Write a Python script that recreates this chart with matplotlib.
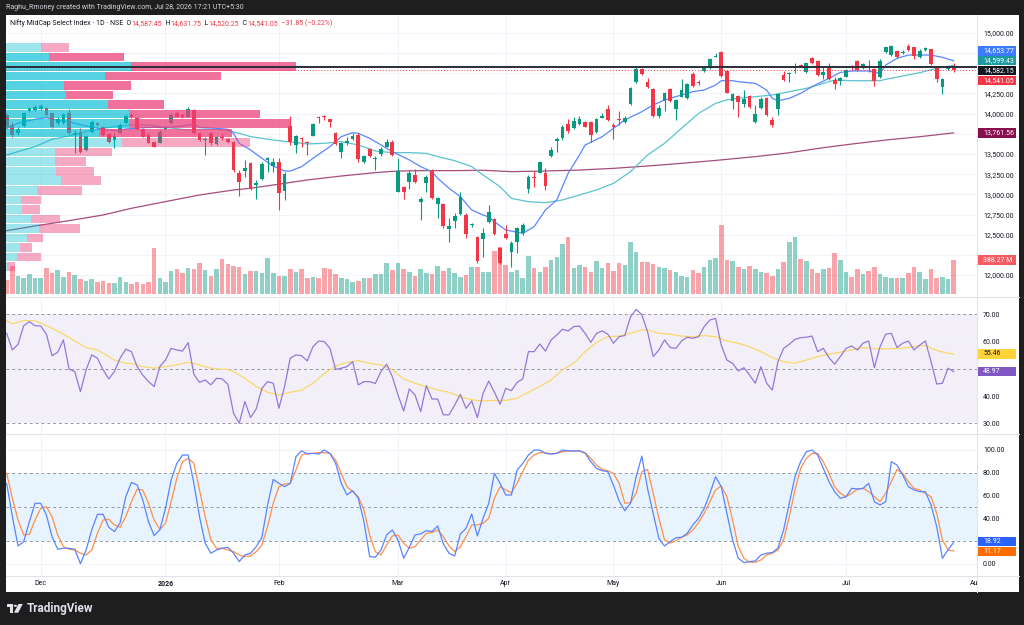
import numpy as np
import matplotlib
matplotlib.use("Agg")
import matplotlib.pyplot as plt
from matplotlib.patches import Rectangle, Polygon, Circle
from matplotlib.transforms import blended_transform_factory, Bbox, TransformedBbox

plt.rcParams['font.family'] = ['Roboto', 'DejaVu Sans']

# ---------------- data ----------------
opens = [13983,13859,13756,13847,14037,14045,14053,14066,14004,13880,
         13880,14012,13735,13777,13550,13777,13888,13830,13744,13674,
         13764,13888,13983,13942,13806,13735,13645,13640,13806,13880,
         14012,13983,13963,14045,13764,13674,13756,13624,13715,13682,
         13653,13269,13294,13384,13116,13186,13426,13351,13405,13042,
         13847,13612,13702,13653,13727,13963,13971,13930,13756,13529,
         13640,13682,13735,13397,13558,13434,13496,13591,13645,13033,
         13095,13149,13240,12901,13137,13289,12876,12876,12567,12674,
         12757,12744,12616,12476,12447,12653,12694,12339,12504,12289,
         12413,12517,13062,13219,13268,13268,13475,13665,13694,13871,
         13818,13867,13892,13896,13776,13950,14053,13859,13933,13900,
         14119,14396,14549,14396,14301,13970,14156,14305,14053,14210,
         14189,14487,14396,14528,14561,14705,14759,14532,14156,14218,
         14119,14218,13900,14065,14189,13921,14053,14478,14487,14561,
         14606,14520,14685,14656,14478,14573,14416,14408,14458,14590,
         14652,14561,14631,14549,14449,14759,14726,14776,14755,14842,
         14821,14697,14788,14796,14573,14334,14549,14587.45]
highs = [14004,13901,13830,14025,14086,14107,14120,14086,14012,13963,
         14004,14053,13797,13818,13735,13921,13901,13847,13764,13756,
         13880,13996,14004,13963,13818,13756,13653,13797,13847,14004,
         14037,14004,14086,14053,13777,13715,13777,13723,13756,13694,
         13665,13302,13426,13405,13178,13405,13467,13446,13446,13281,
         13971,13735,13715,13665,13888,13971,13983,13938,13768,13653,
         13715,13756,13756,13488,13570,13475,13591,13682,13674,13446,
         13104,13302,13314,12963,13240,13310,12971,12889,12703,12765,
         13033,12765,12649,12484,12579,12868,12702,12351,12620,12426,
         12599,12649,13239,13289,13417,13322,13582,13706,13859,13929,
         13954,13970,13908,13908,13941,14003,14107,13879,14036,13970,
         14334,14573,14561,14437,14313,14107,14272,14317,14177,14425,
         14383,14520,14416,14573,14685,14755,14776,14540,14251,14231,
         14293,14231,14107,14210,14210,13954,14260,14532,14520,14623,
         14615,14631,14697,14664,14573,14623,14449,14458,14553,14602,
         14664,14623,14664,14561,14672,14829,14850,14788,14788,14862,
         14829,14796,14829,14805,14582,14437,14582,14631.75]
lows = [13818,13715,13735,13830,14025,14037,14045,13971,13818,13859,
        13872,13748,13508,13508,13541,13764,13847,13723,13632,13570,
        13756,13880,13942,13797,13707,13632,13583,13632,13797,13872,
        13954,13942,13954,13748,13665,13488,13612,13612,13674,13640,
        13281,12980,13219,13054,12938,13178,13281,13281,12806,12930,
        13612,13508,13583,13488,13723,13888,13921,13839,13612,13446,
        13612,13674,13405,13384,13467,13302,13479,13583,13475,13025,
        12938,13066,13145,12682,13033,12938,12703,12579,12414,12579,
        12748,12455,12591,12145,12228,12641,12496,12137,12442,12104,
        12269,12496,13020,13095,13260,13054,13467,13529,13673,13764,
        13805,13859,13830,13652,13764,13941,13908,13681,13859,13888,
        14107,14375,14478,14321,13954,13941,14032,14148,13921,14202,
        14177,14334,14354,14520,14553,14697,14458,14251,14053,13962,
        14086,14065,13880,14057,13970,13838,13983,14408,14396,14499,
        14573,14507,14615,14466,14425,14416,14301,14354,14449,14540,
        14532,14549,14520,14342,14445,14755,14718,14693,14739,14780,
        14672,14689,14780,14602,14396,14243,14540,14520.25]
closes = [13839,13735,13806,14004,14066,14086,14095,13983,13839,13930,
          13996,13756,13756,13529,13723,13901,13859,13735,13653,13723,
          13859,13971,13954,13806,13715,13640,13591,13777,13830,13983,
          13963,13954,14053,13756,13674,13690,13640,13707,13694,13653,
          13302,13157,13323,13062,13137,13376,13446,13405,13013,13252,
          13645,13723,13690,13640,13872,13946,13954,13897,13620,13640,
          13665,13727,13434,13475,13475,13446,13558,13653,13488,13289,
          13033,13260,13157,12943,13211,12951,12959,12608,12608,12736,
          12971,12509,12633,12178,12525,12785,12508,12153,12455,12393,
          12579,12620,13219,13206,13405,13107,13549,13686,13838,13789,
          13913,13933,13838,13735,13929,13970,13921,13830,13921,13950,
          14313,14549,14487,14334,13970,14074,14259,14160,14169,14292,
          14367,14346,14375,14561,14672,14714,14470,14259,14239,14148,
          14177,14086,13995,14177,13983,13859,14243,14416,14507,14582,
          14586,14623,14623,14478,14520,14425,14363,14437,14540,14573,
          14540,14611,14623,14404,14656,14821,14838,14705,14767,14788,
          14714,14780,14809,14615,14425,14425,14573,14541.05]
volumes_m = [160,320,206,179,225,179,179,293,236,274,
             198,255,213,168,148,168,137,145,129,129,
             198,137,114,133,114,133,522,179,133,263,
             286,236,301,286,358,274,209,282,400,343,
             320,305,228,263,263,236,407,236,206,206,
             286,255,282,179,190,187,301,282,225,179,
             171,141,152,187,187,225,225,358,274,350,
             286,247,206,286,244,225,320,263,293,244,
             198,217,312,305,255,255,495,533,331,255,
             274,179,434,293,255,312,388,426,571,647,
             301,331,305,255,377,301,358,263,350,331,
             594,480,369,369,343,312,293,274,255,209,
             198,274,244,305,388,415,788,388,377,305,
             286,320,282,255,236,209,286,362,598,655,
             400,377,286,236,282,301,472,388,255,190,
             286,228,263,305,225,198,179,187,187,236,
             305,255,171,286,179,190,171,388.27]

ma_fast_bars = [1,3,6,8,9,12,13,15,18,20,22,25,27,29,32,34,35,38,40,41,42,44,46,48,50,51,53,55,58,60,
                62,63,65,67,69,72,74,76,77,79,81,83,85,86,87,89,92,94,96,98,100,102,103,106,108,110,113,115,117,120,
                122,124,126,127,129,130,133,135,136,137,139,141,143,146,148,150,153,155,156,158,160,162,164,166,168]
ma_fast_vals = [13818,13880,13930,13950,13930,13901,13880,13847,13806,13789,13810,13826,13830,13826,13847,13868,13830,13818,13806,13756,
                13632,13550,13446,13351,13289,13289,13343,13446,13591,13715,13764,13756,13694,13612,13529,13426,13343,13281,13199,13075,
                12971,12806,12744,12720,12661,12558,12517,12599,12806,12930,13260,13487,13611,13714,13818,13921,14024,14107,14169,14231,
                14272,14293,14354,14408,14408,14396,14375,14293,14189,14160,14189,14251,14334,14437,14511,14528,14528,14499,14602,14685,
                14726,14726,14726,14697,14653.77]
ma_mid_bars = [1,6,9,12,15,18,20,23,26,29,33,35,38,40,42,44,48,54,57,60,63,66,69,72,75,77,80,83,85,88,
               90,93,96,99,102,105,108,111,114,117,120,123,126,128,130,133,136,139,142,145,147,150,153,155,156,159,162,165,168]
ma_mid_vals = [13488,13591,13682,13723,13777,13818,13839,13859,13859,13830,13797,13806,13806,13789,13756,13715,13673,13624,13632,13653,
               13612,13537,13517,13517,13508,13467,13417,13343,13240,13095,12950,12909,12897,12930,12992,13054,13136,13281,13487,13632,
               13818,14003,14127,14170,14189,14210,14231,14272,14313,14375,14416,14408,14408,14408,14425,14466,14507,14561,14599.43]
ma_slow_bars = [1,6,12,18,23,29,35,41,44,48,54,60,66,70,75,80,85,90,96,102,108,114,120,126,133,139,145,150,156,162,168]
ma_slow_vals = [12550,12608,12674,12744,12827,12910,12992,13054,13075,13116,13178,13227,13269,13289,13294,13294,13298,13281,13289,13301,
                13322,13351,13384,13420,13467,13515,13578,13623,13673,13714,13761.56]

rsi_vals = [63.0,56.9,59.0,65.8,67.3,65.8,65.7,62.7,54.8,56.1,
            60.6,49.9,49.0,41.6,49.6,55.1,53.9,49.6,46.3,49.0,
            53.9,57.2,56.3,50.8,47.7,45.3,43.5,50.8,53.2,57.5,
            56.9,56.5,59.6,48.0,45.0,45.9,44.1,46.5,46.3,44.3,
            33.7,30.0,38.0,32.1,35.3,42.8,45.3,44.7,35.5,43.5,
            53.9,55.1,54.8,52.9,58.1,60.2,60.0,57.5,49.8,50.2,
            50.8,52.6,44.1,45.3,45.3,44.6,49.0,51.7,47.1,40.4,
            34.5,42.6,40.4,34.3,43.8,38.9,38.9,33.1,33.1,36.7,
            40.6,35.5,38.2,32.1,41.0,45.5,41.4,37.0,42.8,42.0,
            45.0,46.3,56.3,56.3,59.1,56.5,60.6,62.4,64.5,63.9,
            65.5,65.7,63.0,59.7,63.0,63.9,62.7,59.4,61.8,62.2,
            69.1,71.8,69.8,63.6,54.5,56.9,60.6,57.8,57.5,60.2,
            61.6,61.2,61.8,65.5,67.9,68.5,58.7,53.2,52.0,49.2,
            50.4,47.7,44.7,50.8,44.7,42.2,52.6,57.5,59.0,60.8,
            61.4,61.6,62.0,56.3,57.5,54.1,51.7,54.5,57.5,58.4,
            56.9,59.4,60.2,50.4,58.1,62.7,63.0,57.8,59.4,60.2,
            56.9,58.7,60.2,52.6,44.4,44.7,50.2,48.97]
rsi_ma_bars = [1,2,3,4,6,7,9,11,13,15,17,18,20,22,23,25,27,29,31,33,
               35,37,39,40,41,43,45,47,49,51,53,55,57,59,61,63,65,67,69,71,
               73,75,77,79,81,83,85,87,89,91,93,95,97,99,101,103,105,107,109,111,
               113,114,116,118,120,122,124,126,128,130,132,134,136,138,140,142,144,146,148,150,
               152,154,156,158,160,162,163,165,167,168]
rsi_ma_vals = [67.6,66.5,67.1,67.7,67.6,66.7,64.9,62.7,60.2,57.8,56.9,55.7,53.2,52.0,52.0,50.8,50.2,50.8,51.4,52.4,
               51.4,50.2,49.8,49.8,49.0,46.5,43.5,41.4,40.4,41.4,42.2,44.7,48.3,51.0,52.4,53.0,52.0,51.4,49.6,46.3,
               44.7,43.5,42.2,41.4,39.8,38.6,38.2,38.4,38.4,39.2,41.4,43.5,45.9,49.6,52.0,56.3,59.7,61.8,62.0,63.0,
               64.3,64.3,63.0,62.7,62.0,61.8,62.2,61.8,60.2,59.4,58.1,56.3,54.1,52.6,52.0,53.2,54.5,55.3,56.1,56.9,
               57.8,57.3,57.3,57.5,57.8,58.5,58.5,56.7,55.7,55.46]
stoch_k = [70.6,41.4,15.6,19.4,37.0,53.1,53.1,42.8,23.8,12.7,
           13.6,13.6,12.7,0.0,12.1,29.7,43.4,43.4,32.0,28.2,
           36.1,58.9,71.5,69.2,56.0,37.0,24.7,29.7,48.7,73.6,
           88.2,95.5,95.5,70.6,41.4,18.0,9.2,12.1,13.6,14.4,
           9.2,1.9,7.7,9.2,15.0,23.2,51.6,74.1,70.6,67.7,
           70.6,94.0,99.3,96.4,97.0,96.4,99.9,97.0,88.2,70.6,
           60.4,64.2,57.5,37.0,6.3,5.7,12.1,25.3,29.7,20.9,
           4.8,14.4,25.3,26.2,29.1,28.2,33.2,17.4,9.2,6.8,
           26.2,31.1,43.7,24.4,39.9,53.1,79.4,70.6,60.4,60.4,
           82.3,88.2,95.5,99.9,99.9,97.0,96.4,97.0,99.9,99.3,
           99.0,99.3,97.0,89.7,83.8,81.8,80.9,68.9,55.1,46.6,
           53.1,76.5,94.6,66.2,44.3,22.3,15.6,19.4,22.9,23.2,
           26.7,34.1,39.9,48.7,61.9,76.5,67.7,44.3,20.9,4.8,
           1.0,1.9,2.4,7.7,9.2,9.8,13.6,29.7,53.1,76.5,
           89.7,98.4,99.9,95.5,83.8,72.1,63.3,57.5,58.9,66.2,
           65.7,66.2,70.6,54.5,51.6,54.5,89.7,86.7,78.0,67.7,
           64.8,63.3,63.3,51.6,32.6,4.8,12.1,18.92]
stoch_d = [79.4,57.5,38.4,25.3,25.9,38.4,48.7,50.1,41.4,25.3,
           15.0,12.7,12.1,9.2,7.7,12.1,26.7,38.4,39.0,34.1,
           32.0,41.4,54.5,65.4,64.8,53.1,38.4,30.2,35.5,54.5,
           75.0,89.7,92.6,88.2,64.8,41.4,20.9,13.6,13.6,12.1,
           10.6,7.7,6.3,6.8,10.6,16.5,32.6,53.1,67.7,70.0,
           70.6,82.3,95.5,97.0,97.0,97.6,97.6,97.0,91.1,79.4,
           67.7,63.3,58.9,47.2,25.3,10.6,7.7,16.5,24.4,25.3,
           18.0,13.6,15.0,20.9,26.7,27.3,29.7,23.8,15.6,10.6,
           15.0,23.8,34.1,34.1,35.5,39.9,57.5,67.7,64.8,62.4,
           70.6,80.9,91.1,95.5,97.6,97.6,96.4,97.0,98.4,99.0,
           99.3,99.0,97.6,92.6,86.7,82.9,81.8,79.4,70.6,53.1,
           53.7,61.9,80.9,82.9,61.9,39.9,20.9,18.0,20.3,23.2,
           25.3,29.7,36.1,44.3,54.5,64.8,68.3,58.9,38.4,15.0,
           4.8,1.3,1.3,3.3,7.7,9.2,12.1,20.9,41.4,64.8,
           83.8,92.6,97.0,97.0,89.7,79.4,67.7,61.9,58.9,61.9,
           65.4,66.2,63.3,58.9,54.5,61.9,72.1,82.9,79.4,72.1,
           66.2,64.8,61.9,58.9,44.3,20.9,12.1,11.17]

# visible-range volume profile (24 price rows from the top)
vp_top_price = 14879
vp_row_size = 118
vp_up = [35.3,43.3,125,99.3,58.3,60.3,102,122.6,122.6,92.6,116,48.6,
         48.6,50.3,55.3,31,15,16,25,33.3,21,13.6,11,1]
vp_down = [28,75,165.3,115.7,67,47,56,131.4,161.7,133.4,127.6,57.4,
           31.7,38,39.7,45,20.3,17.6,29.3,40.3,16,12.4,24.3,8.3]
vp_value_area_rows = (1, 9)

hline_price = 14582.15
price_ticks = [12000,12250,12500,12750,13000,13250,13500,13750,14000,14250,14500,14750,15000]
rsi_ticks = [30,40,50,60,70]
stoch_ticks = [0,20,40,60,80,100]
month_bars = [7,29,49,70,89,108,127,149]
month_labels = ['Dec','2026','Feb','Mar','Apr','May','Jun','Jul']
aug_bar = 172

# ---------------- figure ----------------
W, H = 1024, 625
fig = plt.figure(figsize=(W/100, H/100), dpi=100)
fig.patch.set_facecolor('#1e1e1e')

def frac(x0, y0, x1, y1):
    return [x0/W, 1 - y1/H, (x1-x0)/W, (y1-y0)/H]

def P(x, y):
    return (x/W, 1 - y/H)

fig.add_artist(Rectangle(P(6, 592), 1013/W, 577/H, transform=fig.transFigure,
                         facecolor='white', edgecolor='none', zorder=-5))

n = len(closes)
xs = np.arange(1, n+1)
O = np.array(opens, float); Hh = np.array(highs, float)
L = np.array(lows, float); C = np.array(closes, float)
up = C >= O
XL = (0.877, 172.1)
GRID = '#f0f3fa'
TXT = '#131722'

main_pos = frac(6, 15, 977, 297)
vax = fig.add_axes(main_pos, zorder=1)
ax = fig.add_axes(main_pos, zorder=2)
rax = fig.add_axes(frac(6, 297, 977, 434), zorder=2)
sax = fig.add_axes(frac(6, 434, 977, 576), zorder=2)
for a in (vax, ax, rax, sax):
    a.patch.set_alpha(0)
    a.set_xlim(*XL)
    for s in a.spines.values():
        s.set_visible(False)
    a.tick_params(axis='both', length=0, labelsize=5, labelcolor=TXT, pad=4.3)
    a.set_xticks([])
vax.set_ylim(-34, 3186)
vax.set_axis_off()

ax.set_ylim(11728, 15222)
rax.set_ylim(26.07, 76.35)
sax.set_ylim(-10.8, 114)

for a in (ax, rax, sax):
    for mb in month_bars:
        a.axvline(mb, color=GRID, lw=0.7, zorder=0.2)

# ---- main pane ----
for p in price_ticks:
    ax.axhline(p, color=GRID, lw=0.7, zorder=0.3)

vol_trans = blended_transform_factory(ax.transData, vax.transData)
vcol = [(8/255, 153/255, 129/255, 0.45) if u else (242/255, 54/255, 69/255, 0.45) for u in up]
ax.bar(xs, volumes_m, width=0.8, color=vcol, linewidth=0, transform=vol_trans, zorder=1)

ax.plot(ma_slow_bars, ma_slow_vals, color='#a54d7c', lw=0.9, zorder=2)
ax.plot(ma_mid_bars, ma_mid_vals, color='#5cc3cc', lw=0.9, zorder=2)
ax.plot(ma_fast_bars, ma_fast_vals, color='#5a86ff', lw=0.9, zorder=2)

ccol = np.where(up, '#089981', '#f23645')
ax.vlines(xs, L, Hh, colors=ccol, linewidth=0.8, zorder=3)
ax.bar(xs, np.maximum(np.abs(C - O), 10), bottom=np.minimum(O, C), width=0.66,
       color=ccol, linewidth=0, zorder=3.5)

ax.axhline(closes[-1], color='#f23645', lw=0.7, ls=(0, (1, 2)), zorder=3.8)

vp_trans = blended_transform_factory(ax.transAxes, ax.transData)
tot = [u + d for u, d in zip(vp_up, vp_down)]
scale = 0.299 / max(tot)
for k, (u, d) in enumerate(zip(vp_up, vp_down)):
    top = vp_top_price - k * vp_row_size
    bot = top - vp_row_size
    inva = vp_value_area_rows[0] <= k <= vp_value_area_rows[1]
    ca = (0, 188/255, 212/255, 0.66 if inva else 0.38)
    cb = (236/255, 64/255, 122/255, 0.74 if inva else 0.45)
    y0 = bot + vp_row_size * 0.05
    hh = vp_row_size * 0.9
    ax.add_patch(Rectangle((0, y0), u*scale, hh, transform=vp_trans, facecolor=ca, edgecolor='none', zorder=4))
    ax.add_patch(Rectangle((u*scale, y0), d*scale, hh, transform=vp_trans, facecolor=cb, edgecolor='none', zorder=4))

ax.axhline(hline_price, color='#2a2e39', lw=1.4, zorder=5)

# ---- RSI pane ----
rax.axhspan(30, 70, color='#7e57c2', alpha=0.09, lw=0, zorder=0.1)
for v in (40, 60):
    rax.axhline(v, color=GRID, lw=0.7, zorder=0.3)
for v in (30, 50, 70):
    rax.axhline(v, color='#9598a1', lw=0.7, ls=(0, (3, 3)), zorder=0.5)
rax.plot(rsi_ma_bars, rsi_ma_vals, color='#f9d86a', lw=0.9, zorder=2)
rax.plot(xs, rsi_vals, color='#9478d8', lw=0.9, zorder=3)

# ---- Stochastic pane ----
sax.axhspan(20, 80, color='#2196f3', alpha=0.1, lw=0, zorder=0.1)
for v in (0, 40, 60, 100):
    sax.axhline(v, color=GRID, lw=0.7, zorder=0.3)
for v in (20, 50, 80):
    sax.axhline(v, color='#9598a1', lw=0.7, ls=(0, (3, 3)), zorder=0.5)
sax.plot(xs, stoch_d, color='#ff8f4a', lw=0.9, zorder=2)
sax.plot(xs, stoch_k, color='#5b83ff', lw=0.9, zorder=3)
sax.set_xticks(month_bars)
sax.set_xticklabels(month_labels)
sax.tick_params(axis='x', pad=3.0, labelsize=5)
for t in sax.get_xticklabels():
    if t.get_text() == '2026':
        t.set_fontweight('bold')
aug = sax.text(aug_bar, -0.05, 'Aug', transform=blended_transform_factory(sax.transData, sax.transAxes),
               ha='center', va='center', fontsize=5, color=TXT, clip_on=True)
aug.set_clip_box(TransformedBbox(Bbox.from_extents(0, 0, 977/W, 1), fig.transFigure))

# ---- separators ----
sep = '#e0e3eb'
for yy in (297, 434, 576):
    fig.add_artist(plt.Line2D([6/W, 1019/W], [1-yy/H, 1-yy/H], transform=fig.transFigure, color=sep, lw=0.8, zorder=1))
fig.add_artist(plt.Line2D([977/W, 977/W], [1-15/H, 1-592/H], transform=fig.transFigure, color=sep, lw=0.8, zorder=1))

# ---- right-axis value boxes ----
def ypix(a, v):
    return H - a.transData.transform((1, v))[1]

def spread(cs, gap=9.9):
    order = np.argsort(cs)
    srt = [cs[i] for i in order]
    if all(srt[i+1] - srt[i] >= gap for i in range(len(srt)-1)):
        return cs
    m = np.mean(srt)
    start = m - gap * (len(srt)-1) / 2
    out = [0]*len(cs)
    for j, i in enumerate(order):
        out[i] = start + j*gap
    return out

BOX_H = 9.4
boxes = []  # (axes, y_center_px, text, facecolor, textcolor)
main_vals = [ma_fast_vals[-1], ma_mid_vals[-1], hline_price, closes[-1]]
main_cols = ['#3d7bff', '#1b9aa0', '#131722', '#f23645']
ys = spread([ypix(ax, v) for v in main_vals])
for v, c, yc in zip(main_vals, main_cols, ys):
    boxes.append((ax, yc, f'{v:,.2f}', c, 'white'))
boxes.append((ax, ypix(ax, ma_slow_vals[-1]), f'{ma_slow_vals[-1]:,.2f}', '#880e4f', 'white'))
boxes.append((ax, H - vax.transData.transform((1, volumes_m[-1]))[1], f'{volumes_m[-1]:.2f} M', '#f45b63', 'white'))
boxes.append((rax, ypix(rax, rsi_ma_vals[-1]), f'{rsi_ma_vals[-1]:.2f}', '#ffd43b', TXT))
boxes.append((rax, ypix(rax, rsi_vals[-1]), f'{rsi_vals[-1]:.2f}', '#7e57c2', 'white'))
sy = spread([ypix(sax, stoch_k[-1]), ypix(sax, stoch_d[-1])])
boxes.append((sax, sy[0], f'{stoch_k[-1]:.2f}', '#2962ff', 'white'))
boxes.append((sax, sy[1], f'{stoch_d[-1]:.2f}', '#ff6d00', 'white'))

for _, yc, text, fc, tc in boxes:
    fig.add_artist(Rectangle(P(978, yc + BOX_H/2), 38/W, BOX_H/H, transform=fig.transFigure,
                             facecolor=fc, edgecolor='none', zorder=20))
    fig.text(983/W, 1 - yc/H, text, color=tc, fontsize=5, va='center', ha='left', zorder=21)

# axis tick labels, leaving out the ones that sit under a value box
def right_ticks(a, ticks, fmt):
    a.yaxis.tick_right()
    a.set_yticks(ticks)
    labs = []
    for t in ticks:
        yp = ypix(a, t)
        hidden = any(b[0] is a and abs(b[1] - yp) < 9.0 for b in boxes)
        labs.append('' if hidden else fmt(t))
    a.set_yticklabels(labs)

right_ticks(ax, price_ticks, lambda p: f'{p:,.2f}')
right_ticks(rax, rsi_ticks, lambda v: f'{v:.2f}')
right_ticks(sax, stoch_ticks, lambda v: f'{v:.2f}')

# ---- header texts ----
fig.text(6/W, 1 - 7.5/H, 'Raghu_Rmoney created with TradingView.com, Jul 28, 2026 17:21 UTC+5:30',
         color='#d1d4dc', fontsize=5, va='center', ha='left')

renderer = fig.canvas.get_renderer()
red = '#f23645'
pieces = [('Nifty MidCap Select Index · 1D · NSE', TXT), ('  O', TXT), (f'{opens[-1]:,.2f}', red),
          ('  H', TXT), (f'{highs[-1]:,.2f}', red), ('  L', TXT), (f'{lows[-1]:,.2f}', red),
          ('  C', TXT), (f'{closes[-1]:,.2f}', red), ('  −31.85 (−0.22%)', red)]
xcur = 10
for s, c in pieces:
    t = fig.text(xcur/W, 1 - 23.5/H, s, color=c, fontsize=5.0, va='center', ha='left', zorder=22)
    bb = t.get_window_extent(renderer)
    xcur = bb.x1

# ---- TradingView logo ----
lc = '#e0e3eb'
fig.add_artist(Polygon([P(6.7, 604), P(12.7, 604), P(12.7, 612.7), P(9.7, 612.7), P(9.7, 607.3), P(6.7, 607.3)],
                       closed=True, transform=fig.transFigure, facecolor=lc, edgecolor='none'))
fig.add_artist(Circle(P(15.3, 605.8), 1.7/W, transform=fig.transFigure, facecolor=lc, edgecolor='none'))
fig.add_artist(Polygon([P(14.0, 612.7), P(18.4, 604), P(22.7, 604), P(18.3, 612.7)],
                       closed=True, transform=fig.transFigure, facecolor=lc, edgecolor='none'))
fig.text(27/W, 1 - 608.5/H, 'TradingView', color=lc, fontsize=8.5, fontweight='bold', va='center', ha='left')

fig.savefig('out.png', dpi=100, facecolor=fig.get_facecolor())
